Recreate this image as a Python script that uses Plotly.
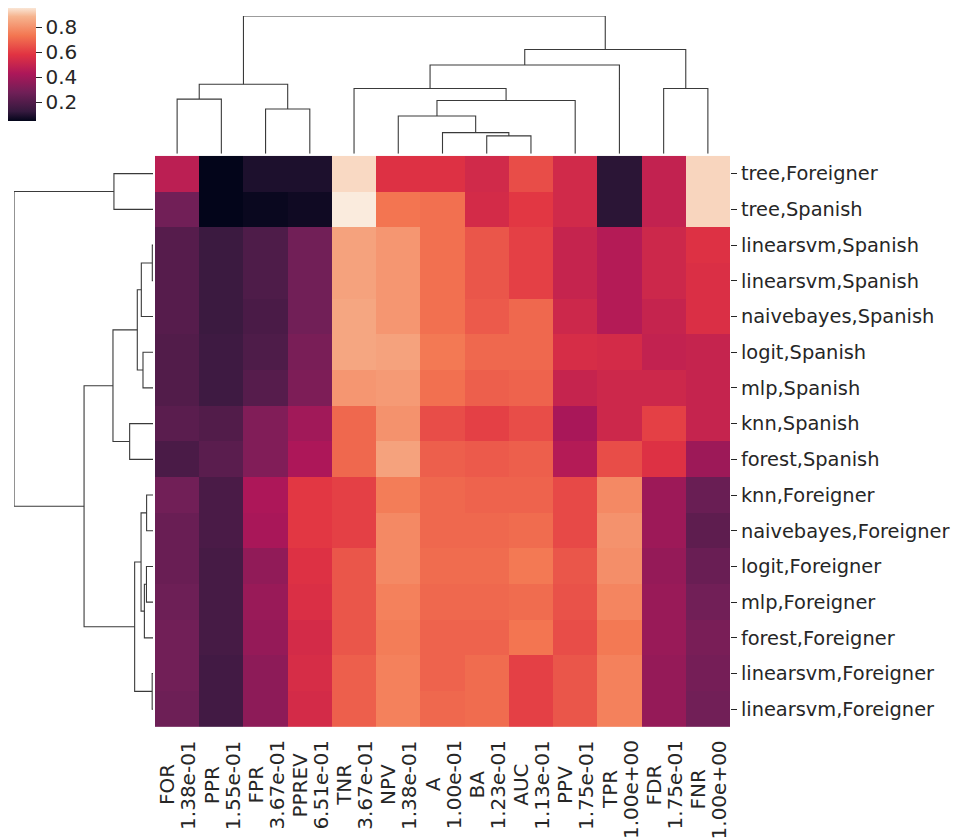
import plotly.graph_objects as go

# ---------------- data ----------------
col_names = ["FOR", "PPR", "FPR", "PPREV", "TNR", "NPV", "A", "BA", "AUC", "PPV", "TPR", "FDR", "FNR"]
col_values = ["1.38e-01", "1.55e-01", "3.67e-01", "6.51e-01", "3.67e-01", "1.38e-01", "1.00e-01",
              "1.23e-01", "1.13e-01", "1.75e-01", "1.00e+00", "1.75e-01", "1.00e+00"]
row_labels = ["tree,Foreigner", "tree,Spanish", "linearsvm,Spanish", "linearsvm,Spanish",
              "naivebayes,Spanish", "logit,Spanish", "mlp,Spanish", "knn,Spanish", "forest,Spanish",
              "knn,Foreigner", "naivebayes,Foreigner", "logit,Foreigner", "mlp,Foreigner",
              "forest,Foreigner", "linearsvm,Foreigner", "linearsvm,Foreigner"]

#            FOR   PPR   FPR  PPREV  TNR   NPV   A     BA    AUC   PPV   TPR   FDR   FNR
z_values = [
    [0.47, 0.05, 0.09, 0.09, 0.935, 0.57, 0.57, 0.53, 0.64, 0.53, 0.11, 0.49, 0.93],
    [0.28, 0.05, 0.06, 0.07, 0.96, 0.73, 0.72, 0.54, 0.59, 0.53, 0.11, 0.49, 0.93],
    [0.21, 0.14, 0.19, 0.28, 0.84, 0.81, 0.72, 0.66, 0.61, 0.50, 0.45, 0.52, 0.57],
    [0.21, 0.14, 0.19, 0.28, 0.84, 0.81, 0.72, 0.66, 0.61, 0.50, 0.45, 0.52, 0.56],
    [0.21, 0.14, 0.18, 0.28, 0.85, 0.81, 0.72, 0.67, 0.70, 0.52, 0.45, 0.50, 0.56],
    [0.20, 0.15, 0.19, 0.30, 0.85, 0.84, 0.74, 0.70, 0.70, 0.55, 0.54, 0.49, 0.50],
    [0.20, 0.15, 0.21, 0.31, 0.81, 0.82, 0.72, 0.68, 0.69, 0.50, 0.52, 0.52, 0.50],
    [0.22, 0.20, 0.32, 0.40, 0.70, 0.80, 0.64, 0.61, 0.64, 0.42, 0.52, 0.61, 0.50],
    [0.18, 0.22, 0.32, 0.43, 0.70, 0.84, 0.68, 0.67, 0.68, 0.45, 0.64, 0.57, 0.39],
    [0.28, 0.18, 0.43, 0.59, 0.61, 0.75, 0.70, 0.69, 0.69, 0.63, 0.78, 0.39, 0.26],
    [0.26, 0.18, 0.42, 0.59, 0.61, 0.78, 0.70, 0.70, 0.71, 0.63, 0.80, 0.39, 0.23],
    [0.26, 0.17, 0.36, 0.57, 0.66, 0.78, 0.71, 0.71, 0.74, 0.66, 0.79, 0.37, 0.26],
    [0.27, 0.17, 0.38, 0.56, 0.66, 0.76, 0.70, 0.70, 0.71, 0.65, 0.77, 0.38, 0.28],
    [0.28, 0.17, 0.37, 0.54, 0.66, 0.75, 0.69, 0.69, 0.73, 0.64, 0.74, 0.38, 0.30],
    [0.28, 0.16, 0.35, 0.55, 0.68, 0.76, 0.69, 0.71, 0.61, 0.66, 0.76, 0.37, 0.29],
    [0.27, 0.16, 0.35, 0.54, 0.68, 0.76, 0.70, 0.71, 0.61, 0.66, 0.76, 0.37, 0.28],
]

# linkage (scipy style: index < n is a leaf, >= n is an earlier merge), heights relative
col_linkage = [
    (7, 8, 0.130), (6, 13, 0.154), (5, 14, 0.274), (2, 3, 0.325), (15, 9, 0.387),
    (0, 1, 0.397), (4, 17, 0.474), (11, 12, 0.474), (18, 16, 0.505), (19, 10, 0.644),
    (22, 20, 0.757), (21, 23, 1.0),
]
row_linkage = [
    (2, 3, 0.005), (14, 15, 0.006), (9, 10, 0.046), (11, 12, 0.047), (19, 13, 0.062),
    (5, 6, 0.072), (16, 4, 0.084), (18, 20, 0.086), (22, 21, 0.113), (23, 17, 0.132),
    (7, 8, 0.168), (0, 1, 0.281), (24, 26, 0.288), (28, 25, 0.496), (27, 29, 1.0),
]

# ---------------- helpers ----------------
rocket = [
    [0.0, "#03051A"], [0.0833, "#35193E"], [0.25, "#701F57"], [0.4167, "#AD1759"],
    [0.5833, "#E13342"], [0.75, "#F37651"], [0.9167, "#F6B48F"], [1.0, "#FAEBDD"],
]

# approximate DejaVu Sans advance widths (em) for label layout
CW = {"0": .636, "1": .636, "2": .636, "3": .636, "4": .636, "5": .636, "6": .636, "7": .636,
      "8": .636, "9": .636, ".": .318, "e": .615, "-": .361, "+": .838}


def text_w(s, size):
    return sum(CW.get(c, .62) for c in s) * size


def dendro_segments(linkage, n):
    pos = {i: float(i) for i in range(n)}
    hgt = {i: 0.0 for i in range(n)}
    xs, ys = [], []
    for k, (a, b, h) in enumerate(linkage):
        xa, xb = pos[a], pos[b]
        xs += [xa, xa, xb, xb, None]
        ys += [hgt[a], h, h, hgt[b], None]
        pos[n + k] = (xa + xb) / 2
        hgt[n + k] = h
    return xs, ys


OFF = 8  # page body margin
W, H = 959 - OFF, 838 - OFF


def px(v):
    return (v - OFF) / W


def py(v):
    return 1 - (v - OFF) / H


hx0, hx1, hy0, hy1 = 155, 730, 155, 727  # heatmap pixel box (reference coords)
TXT = "#262626"
FONT = "DejaVu Sans"
FS = 20
FS_ROW = 19.4

ncol, nrow = len(col_names), len(row_labels)
fig = go.Figure()

fig.add_trace(go.Heatmap(
    z=z_values, x=list(range(ncol)), y=list(range(nrow)),
    colorscale=rocket, zmin=0.05, zmax=0.96,
    xaxis="x", yaxis="y",
    colorbar=dict(
        x=px(8), xanchor="left", y=py(7), yanchor="top",
        lenmode="pixels", len=114, thicknessmode="pixels", thickness=28,
        xpad=0, ypad=0, outlinewidth=0,
        tickvals=[0.2, 0.4, 0.6, 0.8], ticks="outside", ticklen=6, tickwidth=1.3,
        tickcolor=TXT, tickfont=dict(size=FS, color=TXT, family=FONT),
    ),
))

cx, cy = dendro_segments(col_linkage, ncol)
fig.add_trace(go.Scatter(x=cx, y=cy, mode="lines", xaxis="x2", yaxis="y2",
                         line=dict(color="#3a3a3a", width=1.1), hoverinfo="skip", showlegend=False))
ry, rx = dendro_segments(row_linkage, nrow)
fig.add_trace(go.Scatter(x=rx, y=ry, mode="lines", xaxis="x3", yaxis="y3",
                         line=dict(color="#3a3a3a", width=1.1), hoverinfo="skip", showlegend=False))

xdom = [px(hx0), px(hx1)]
ydom = [py(hy1), py(hy0)]

fig.update_layout(
    width=W, height=H, margin=dict(l=0, r=0, t=0, b=0),
    paper_bgcolor="white", plot_bgcolor="white",
    font=dict(family=FONT, size=FS, color=TXT),
    showlegend=False,
    xaxis=dict(domain=xdom, range=[-0.5, ncol - 0.5], showticklabels=False, showgrid=False,
               zeroline=False, ticks="", showline=False),
    yaxis=dict(domain=ydom, range=[nrow - 0.5, -0.5], side="right", tickvals=list(range(nrow)),
               ticktext=row_labels, ticks="outside", ticklen=6, tickwidth=1.3, tickcolor=TXT,
               showgrid=False, zeroline=False, showline=False,
               tickfont=dict(size=FS_ROW, color=TXT, family=FONT)),
    xaxis2=dict(domain=xdom, anchor="y2", range=[-0.5, ncol - 0.5], visible=False),
    yaxis2=dict(domain=[py(153), py(15)], anchor="x2", range=[0, 1], visible=False),
    xaxis3=dict(domain=[px(14), px(153)], anchor="y3", range=[1, 0], visible=False),
    yaxis3=dict(domain=ydom, anchor="x3", range=[nrow - 0.5, -0.5], visible=False),
)

label_top = 740
for i, (nm, val) in enumerate(zip(col_names, col_values)):
    block = max(text_w(val, FS), text_w(nm, FS))
    ymid = py(label_top + block / 2)
    for txt, dx in ((nm, -10), (val, 11)):
        fig.add_annotation(
            x=i, xref="x", xshift=dx, y=ymid, yref="paper",
            text=txt, textangle=-90, showarrow=False,
            xanchor="center", yanchor="middle",
            font=dict(size=FS, color=TXT, family=FONT),
        )

fig.write_html("out.html")
